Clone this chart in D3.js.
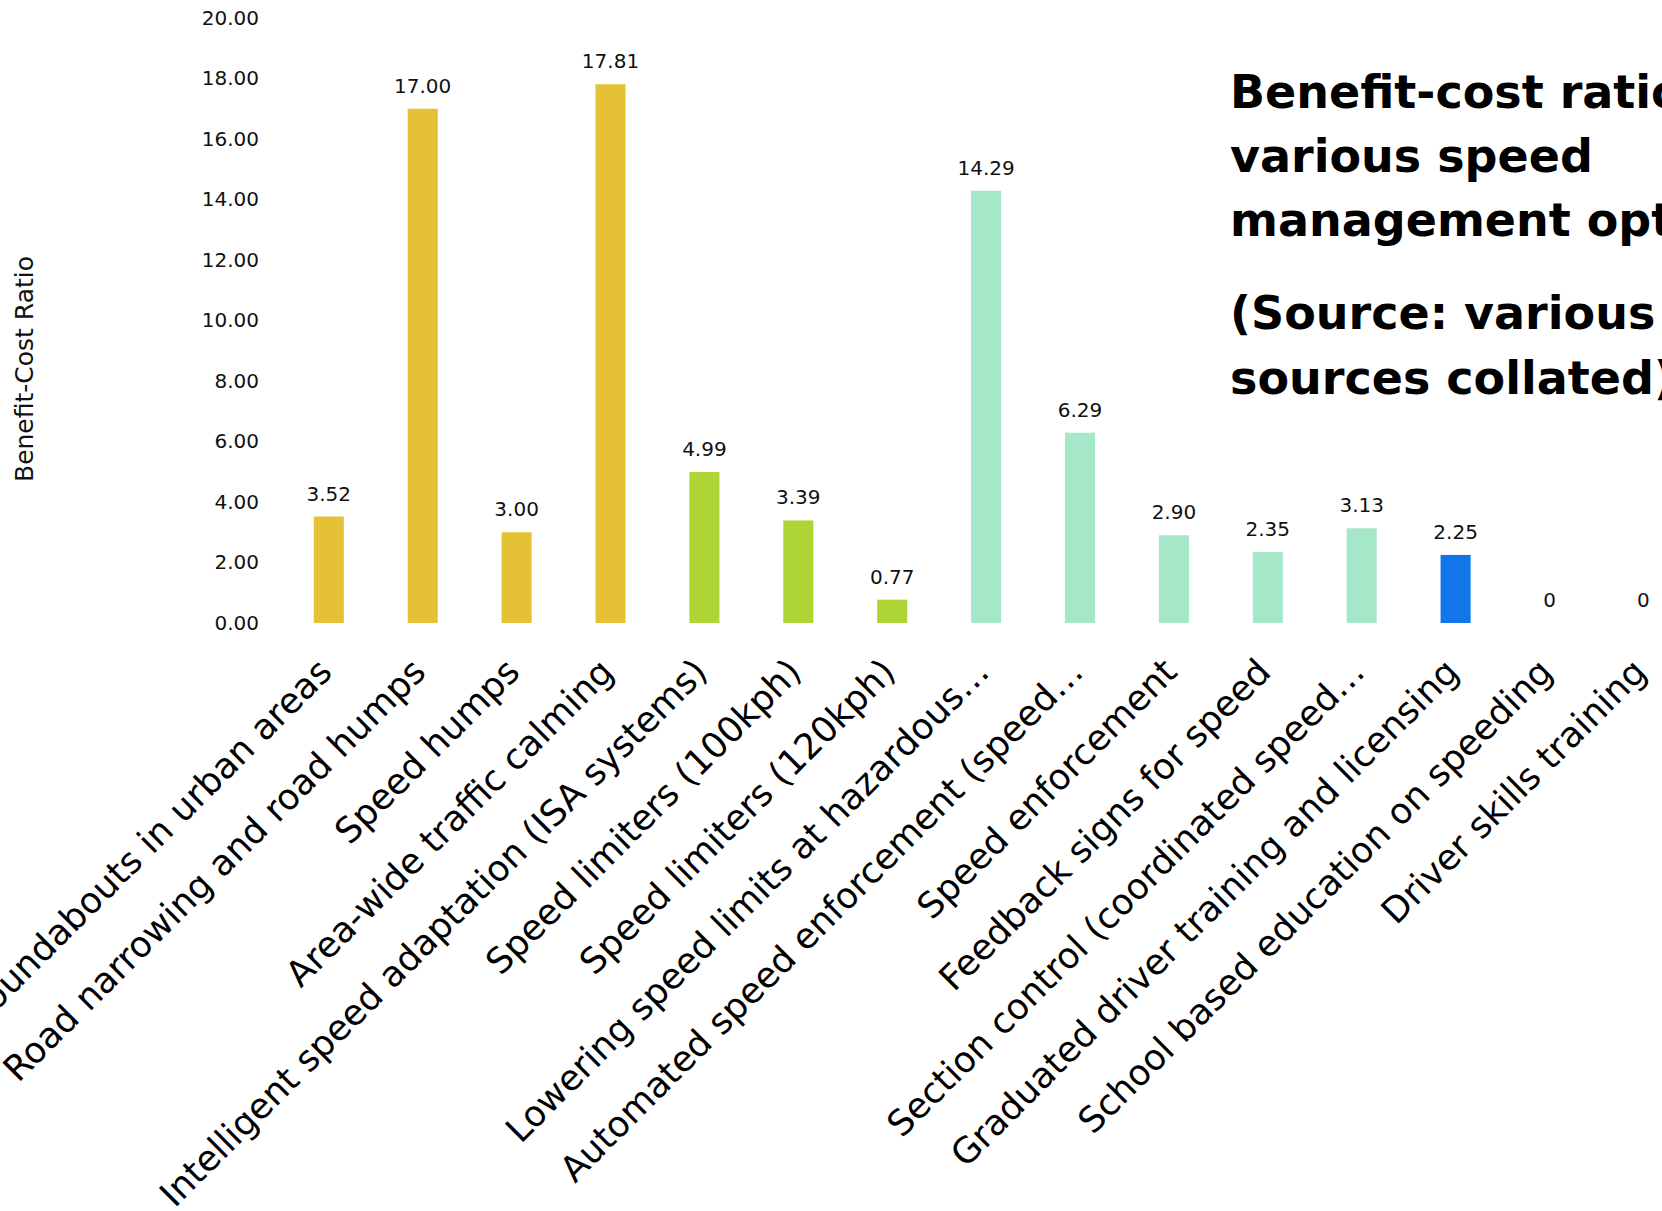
<!DOCTYPE html>
<html>
<head>
<meta charset="utf-8">
<script src="https://cdn.jsdelivr.net/npm/d3@7"></script>
<style>
  body { margin: 0; background: #fff; }
  svg { display: block; font-family: "DejaVu Sans", sans-serif; }
</style>
</head>
<body>
<div id="bcr_chart"></div>
<script>
// data
const categories = [
  "Roundabouts in urban areas",
  "Road narrowing and road humps",
  "Speed humps",
  "Area-wide traffic calming",
  "Intelligent speed adaptation (ISA systems)",
  "Speed limiters (100kph)",
  "Speed limiters (120kph)",
  "Lowering speed limits at hazardous\u2026",
  "Automated speed enforcement (speed\u2026",
  "Speed enforcement",
  "Feedback signs for speed",
  "Section control (coordinated speed\u2026",
  "Graduated driver training and licensing",
  "School based education on speeding",
  "Driver skills training"
];
const ratios = [3.52, 17.00, 3.00, 17.81, 4.99, 3.39, 0.77, 14.29, 6.29, 2.90, 2.35, 3.13, 2.25, 0, 0];
const groups = ["road", "road", "road", "road", "vehicle", "vehicle", "vehicle",
  "enforcement", "enforcement", "enforcement", "enforcement", "enforcement",
  "education", "education", "education"];
const groupNames = ["road", "vehicle", "enforcement", "education"];
const groupColors = ["#e5c235", "#add536", "#a4e7c9", "#1275e8"];
const yTicks = [0, 2, 4, 6, 8, 10, 12, 14, 16, 18, 20];
const yTitle = "Benefit-Cost Ratio";
const titleLines = ["Benefit-cost ratios of", "various speed", "management options"];
const sourceLines = ["(Source: various", "sources collated)"];

// set the dimensions and margins of the graph
const W = 1662, H = 1211;
const margin = {top: 18, left: 281.85},
  width = 93.9 * categories.length,
  height = 605;

// append the svg object to the body of the page
const root = d3.select("#bcr_chart")
  .append("svg")
  .attr("width", W)
  .attr("height", H);

root.append("rect").attr("width", W).attr("height", H).attr("fill", "#fff");

const svg = root.append("g")
  .attr("transform", `translate(${margin.left},${margin.top})`);

const data = categories.map((c, i) => ({cat: c, value: ratios[i], group: groups[i]}));

// Add X axis
const x = d3.scaleBand()
  .domain(categories)
  .range([0, width])
  .paddingInner(0.68)
  .paddingOuter(0.34);

const xAxis = svg.append("g")
  .attr("transform", `translate(0, ${height})`)
  .call(d3.axisBottom(x).tickSize(0));
xAxis.select(".domain").remove();
xAxis.selectAll("text")
  .attr("x", 0).attr("y", 0).attr("dy", 0)
  .style("text-anchor", "end")
  .attr("font-family", "DejaVu Sans")
  .attr("font-size", 35.5)
  .attr("fill", "#000")
  .attr("transform", "translate(5,51) rotate(-45)");

// Add Y axis
const y = d3.scaleLinear()
  .domain([0, 20])
  .range([height, 0]);

const yAxis = svg.append("g")
  .attr("transform", `translate(${262 - margin.left}, 0)`)
  .call(d3.axisLeft(y).tickValues(yTicks).tickFormat(d3.format(".2f")).tickSize(0).tickPadding(3));
yAxis.select(".domain").remove();
yAxis.selectAll("text")
  .attr("font-family", "DejaVu Sans")
  .attr("font-size", 20)
  .attr("fill", "#111");

// y axis title
root.append("text")
  .attr("transform", `translate(33, 369) rotate(-90)`)
  .attr("text-anchor", "middle")
  .attr("font-size", 25)
  .attr("fill", "#111")
  .text(yTitle);

// colour per group
const color = d3.scaleOrdinal()
  .domain(groupNames)
  .range(groupColors);

// Show the bars
svg.append("g")
  .selectAll("rect")
  .data(data)
  .join("rect")
  .attr("x", d => x(d.cat))
  .attr("y", d => y(d.value))
  .attr("width", x.bandwidth())
  .attr("height", d => height - y(d.value))
  .attr("fill", d => color(d.group));

// value labels
svg.append("g")
  .selectAll("text")
  .data(data)
  .join("text")
  .attr("x", d => x(d.cat) + x.bandwidth() / 2)
  .attr("y", d => y(d.value) - 16)
  .attr("text-anchor", "middle")
  .attr("font-size", 20)
  .attr("fill", "#111")
  .text(d => d.value === 0 ? "0" : d.value.toFixed(2));

// title block, runs off the right edge like the original
const title = root.append("g")
  .attr("font-weight", "bold")
  .attr("font-size", 46)
  .attr("fill", "#000");
title.selectAll(".t1")
  .data(titleLines)
  .join("text")
  .attr("class", "t1")
  .attr("x", 1230)
  .attr("y", (d, i) => 108 + i * 64)
  .text(d => d);
title.selectAll(".t2")
  .data(sourceLines)
  .join("text")
  .attr("class", "t2")
  .attr("x", 1230)
  .attr("y", (d, i) => 329 + i * 65)
  .text(d => d);
</script>
</body>
</html>
